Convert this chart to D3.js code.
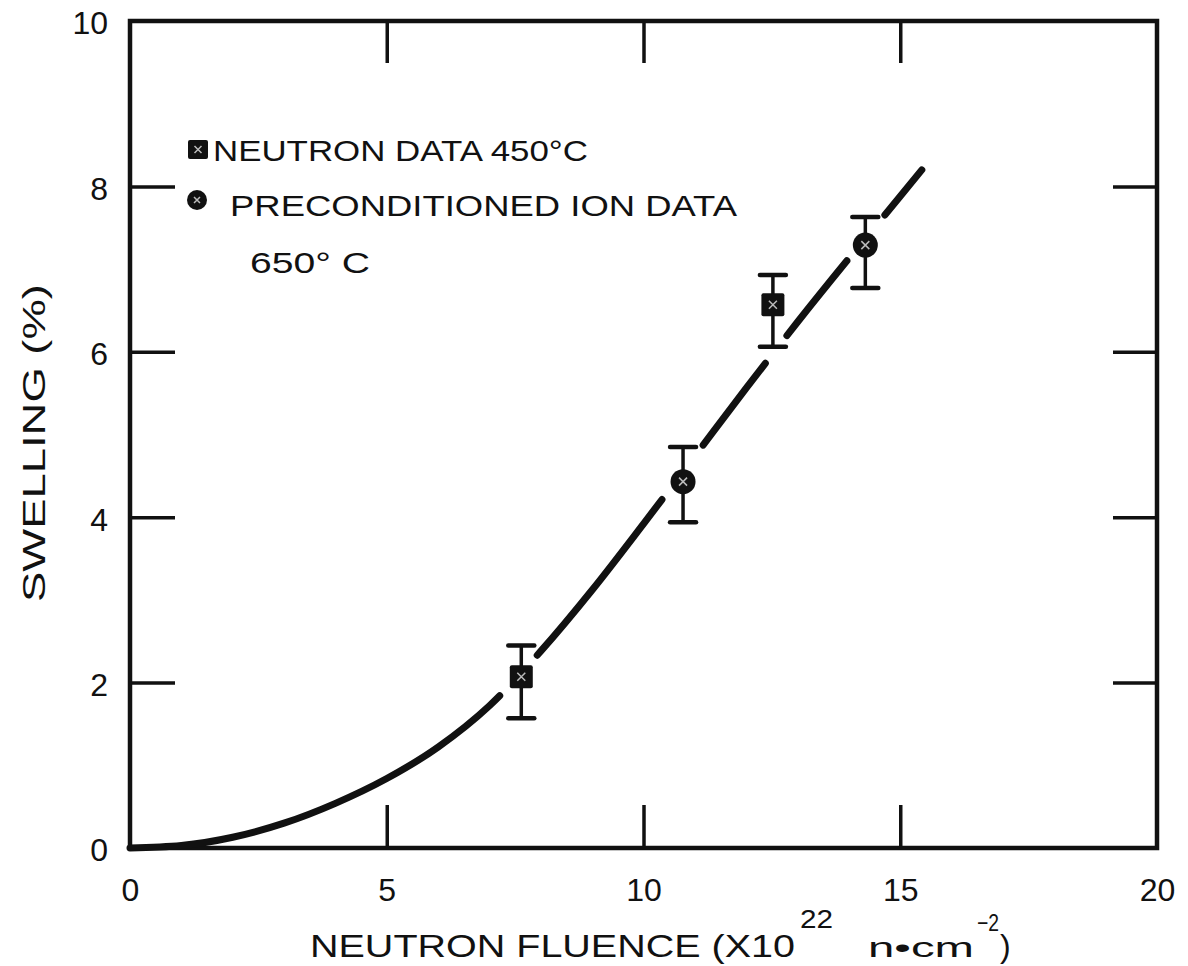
<!DOCTYPE html>
<html lang="en">
<script src="https://d3js.org/d3.v7.min.js"></script>
<style>
  body { margin: 0; background: white; }
  svg { font-family: "Liberation Sans", Arial, sans-serif; }
  .lbl { font-size: 32px; fill: #111; }
</style>
<body>
<svg width="1188" height="966" id="chart"></svg>
<script>
// fitted swelling curve (x = fluence 1e22 n/cm2, y = swelling %)
var curveX = [0, 1, 2, 3, 4, 5, 6, 7, 8, 9, 10, 11, 12, 13, 14, 15, 15.42];
var curveY = [0, 0.03, 0.13, 0.3, 0.54, 0.84, 1.22, 1.72, 2.38, 3.12, 3.92, 4.74, 5.56, 6.36, 7.13, 7.88, 8.2];
// visible pieces of the curve (it breaks around the markers)
var curvePieces = [[0, 7.2], [7.93, 10.36], [11.16, 12.37], [12.79, 13.96], [14.7, 15.42]];

var neutronX = [7.62, 12.52];
var neutronY = [2.07, 6.57];
var neutronLo = [1.57, 6.06];
var neutronHi = [2.45, 6.93];

var ionX = [10.77, 14.32];
var ionY = [4.43, 7.29];
var ionLo = [3.94, 6.77];
var ionHi = [4.85, 7.63];

var xTicks = [0, 5, 10, 15, 20];
var yTicks = [0, 2, 4, 6, 8, 10];

var svg = d3.select('#chart');
var pLeft = 130, pRight = 1157, pTop = 21, pBottom = 848;

var x = d3.scaleLinear().domain([0, 20]).range([pLeft, pRight]);
var y = d3.scaleLinear().domain([0, 10]).range([pBottom, pTop]);

// ticks, pointing inward
var gb = svg.append('g').attr('transform', 'translate(0,' + pBottom + ')')
  .call(d3.axisBottom(x).tickValues(xTicks).tickSize(-43).tickPadding(30).tickFormat(d3.format('d')));
var gl = svg.append('g').attr('transform', 'translate(' + pLeft + ',0)')
  .call(d3.axisLeft(y).tickValues(yTicks).tickSize(-45).tickPadding(22).tickFormat(d3.format('d')));
var gt = svg.append('g').attr('transform', 'translate(0,' + pTop + ')')
  .call(d3.axisTop(x).tickValues([5, 10, 15]).tickSize(-42).tickFormat(''));
var gr = svg.append('g').attr('transform', 'translate(' + pRight + ',0)')
  .call(d3.axisRight(y).tickValues([2, 4, 6, 8]).tickSize(-44).tickFormat(''));

[gb, gl, gt, gr].forEach(function(g) {
  g.attr('font-family', null).attr('font-size', null);
  g.select('.domain').remove();
  g.selectAll('line').attr('stroke', '#111').attr('stroke-width', 3.5);
  g.selectAll('text').attr('class', 'lbl');
});
gl.selectAll('text').attr('dy', '0.4em');
// end ticks coincide with the frame
gb.selectAll('.tick').filter(function(d) { return d === 0 || d === 20; }).select('line').remove();
gl.selectAll('.tick').filter(function(d) { return d === 0 || d === 10; }).select('line').remove();

// frame
svg.append('rect')
  .attr('x', pLeft).attr('y', pTop)
  .attr('width', pRight - pLeft).attr('height', pBottom - pTop)
  .attr('fill', 'none').attr('stroke', '#111').attr('stroke-width', 4.5);

// curve
var line = d3.line().x(function(d) { return x(d[0]); }).y(function(d) { return y(d[1]); })
  .curve(d3.curveMonotoneX);
var path = svg.append('path')
  .datum(curveX.map(function(v, i) { return [v, curveY[i]]; }))
  .attr('d', line)
  .attr('fill', 'none').attr('stroke', '#111').attr('stroke-width', 7)
  .attr('stroke-linecap', 'round');

var node = path.node();
var total = node.getTotalLength();
function lenAt(xv) {
  var px = x(xv), lo = 0, hi = total;
  for (var k = 0; k < 40; k++) {
    var mid = (lo + hi) / 2;
    if (node.getPointAtLength(mid).x < px) lo = mid; else hi = mid;
  }
  return (lo + hi) / 2;
}
var dash = [], pos = 0;
curvePieces.forEach(function(p, i) {
  var a = lenAt(p[0]), b = lenAt(p[1]);
  if (i > 0) dash.push(a - pos);
  dash.push(b - a);
  pos = b;
});
dash.push(total);
path.attr('stroke-dasharray', dash.join(' '));

// error bars
function errBars(xs, lo, hi) {
  var g = svg.append('g').attr('stroke', '#111');
  xs.forEach(function(v, i) {
    g.append('line').attr('x1', x(v)).attr('x2', x(v)).attr('y1', y(lo[i])).attr('y2', y(hi[i]))
      .attr('stroke-width', 3.5);
    [lo[i], hi[i]].forEach(function(e) {
      g.append('line').attr('x1', x(v) - 13).attr('x2', x(v) + 13).attr('y1', y(e)).attr('y2', y(e))
        .attr('stroke-width', 4.5).attr('stroke-linecap', 'round');
    });
  });
}
errBars(neutronX, neutronLo, neutronHi);
errBars(ionX, ionLo, ionHi);

function speck(g, cx, cy, s) {
  g.append('path')
    .attr('d', 'M' + (cx - s) + ',' + (cy - s) + 'L' + (cx + s) + ',' + (cy + s) +
      'M' + (cx + s) + ',' + (cy - s) + 'L' + (cx - s) + ',' + (cy + s))
    .attr('stroke', '#bbb').attr('stroke-width', 1.5).attr('fill', 'none');
}

var markers = svg.append('g');
neutronX.forEach(function(v, i) {
  markers.append('rect').attr('x', x(v) - 11.5).attr('y', y(neutronY[i]) - 11.5)
    .attr('width', 23).attr('height', 23).attr('rx', 2).attr('fill', '#111');
  speck(markers, x(v), y(neutronY[i]), 4);
});
ionX.forEach(function(v, i) {
  markers.append('circle').attr('cx', x(v)).attr('cy', y(ionY[i])).attr('r', 12.5).attr('fill', '#111');
  speck(markers, x(v), y(ionY[i]), 4);
});

// legend
var leg = svg.append('g').attr('fill', '#111');
leg.append('rect').attr('x', 188).attr('y', 140).attr('width', 20).attr('height', 19).attr('rx', 2);
speck(leg, 198, 149.5, 3.5);
leg.append('circle').attr('cx', 197).attr('cy', 200).attr('r', 10);
speck(leg, 197, 200, 3);
leg.append('text').attr('x', 213).attr('y', 161).attr('font-size', 29)
  .attr('textLength', 375).attr('lengthAdjust', 'spacingAndGlyphs')
  .text('NEUTRON  DATA  450°C');
leg.append('text').attr('x', 230).attr('y', 216).attr('font-size', 29)
  .attr('textLength', 507).attr('lengthAdjust', 'spacingAndGlyphs')
  .text('PRECONDITIONED ION DATA');
leg.append('text').attr('x', 250).attr('y', 273).attr('font-size', 30)
  .attr('textLength', 120).attr('lengthAdjust', 'spacingAndGlyphs')
  .text('650° C');

// axis titles
svg.append('text')
  .attr('transform', 'translate(45,443) rotate(-90)')
  .attr('text-anchor', 'middle').attr('font-size', 31).attr('fill', '#111')
  .attr('textLength', 318).attr('lengthAdjust', 'spacingAndGlyphs')
  .text('SWELLING (%)');

var xt = svg.append('text').attr('fill', '#111').attr('font-size', 32);
xt.append('tspan').attr('x', 310).attr('y', 957)
  .attr('textLength', 485).attr('lengthAdjust', 'spacingAndGlyphs')
  .text('NEUTRON  FLUENCE (X10');
xt.append('tspan').attr('x', 800).attr('y', 928).attr('font-size', 26)
  .attr('textLength', 33).attr('lengthAdjust', 'spacingAndGlyphs').text('22');
xt.append('tspan').attr('x', 868).attr('y', 957).attr('font-size', 28)
  .attr('textLength', 106).attr('lengthAdjust', 'spacingAndGlyphs').text('n\u2022cm');
xt.append('tspan').attr('x', 977).attr('y', 931).attr('font-size', 24)
  .attr('textLength', 22).attr('lengthAdjust', 'spacingAndGlyphs').text('\u22122');
xt.append('tspan').attr('x', 1000).attr('y', 957).text(')');
</script>
</body>
</html>
